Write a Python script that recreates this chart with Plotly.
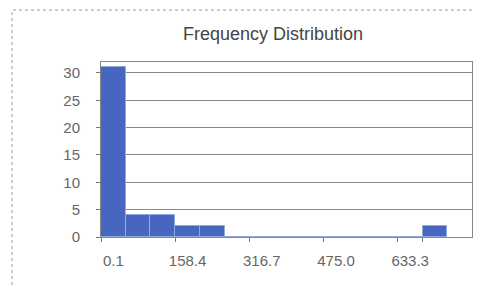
import plotly.graph_objects as go

# Histogram bins (category labels = lower bin edge)
bin_labels = ["0.1", "52.9", "105.6", "158.4", "211.2", "263.9", "316.7", "369.5",
              "422.2", "475.0", "527.8", "580.5", "633.3", "686.1", "738.8"]
frequencies = [31, 4, 4, 2, 2, 0, 0, 0, 0, 0, 0, 0, 0, 2, None]
shown_ticks = ["0.1", "158.4", "316.7", "475.0", "633.3"]
y_ticks = [0, 5, 10, 15, 20, 25, 30]

W, H = 481, 288
OFF = 8  # page body margin offset
L, R, T, B = 101 - OFF, W - (472 - OFF), 62 - OFF, H - (237 - OFF)

fig = go.Figure()
fig.add_trace(go.Bar(
    x=bin_labels, y=frequencies,
    marker=dict(color="#4666bf", line=dict(color="#93a8dc", width=1)),
    hoverinfo="x+y",
))

fig.update_layout(
    width=W, height=H,
    margin=dict(l=L, r=R, t=T, b=B, autoexpand=False),
    paper_bgcolor="white", plot_bgcolor="white",
    bargap=0,
    showlegend=False,
    title=dict(text="Frequency Distribution", x=(273 - OFF) / W, xanchor="center",
               yref="container", y=1 - (34 - OFF) / H, yanchor="middle",
               pad=dict(t=0, b=0, l=0, r=0),
               font=dict(family="Liberation Sans, Arial, sans-serif", size=18, color="#444")),
    font=dict(family="Liberation Sans, Arial, sans-serif", size=15, color="#666"),
    xaxis=dict(
        type="category", automargin=False,
        tickmode="array", tickvals=shown_ticks, ticktext=shown_ticks,
        tickson="boundaries", tickangle=0,
        ticks="outside", ticklen=4, tickcolor="#777",
        showline=True, linecolor="#888", linewidth=1, mirror=True,
        showgrid=False,
        ticklabelstandoff=10,
        tickfont=dict(size=15, color="#666"),
        range=[-0.5, len(bin_labels) - 0.5],
    ),
    yaxis=dict(
        range=[0, 32], automargin=False,
        tickmode="array", tickvals=y_ticks,
        ticks="outside", ticklen=4, tickcolor="#777",
        showline=True, linecolor="#888", linewidth=1, mirror=True,
        showgrid=True, gridcolor="#8a8a8a", gridwidth=1,
        zeroline=False,
        ticklabelstandoff=13,
        tickfont=dict(size=15, color="#666"),
    ),
)

# dotted outer chart-area frame (right and bottom edges lie beyond the view)
pw = W - L - R
ph = H - T - B
fig.add_shape(type="rect", xref="paper", yref="paper",
              x0=(12 - OFF - L) / pw, x1=(520 - L) / pw,
              y0=(H - B - 330) / ph, y1=(H - B - (10 - OFF)) / ph,
              line=dict(color="#999", width=1, dash="dot"), layer="below")

fig.write_html("out.html")
